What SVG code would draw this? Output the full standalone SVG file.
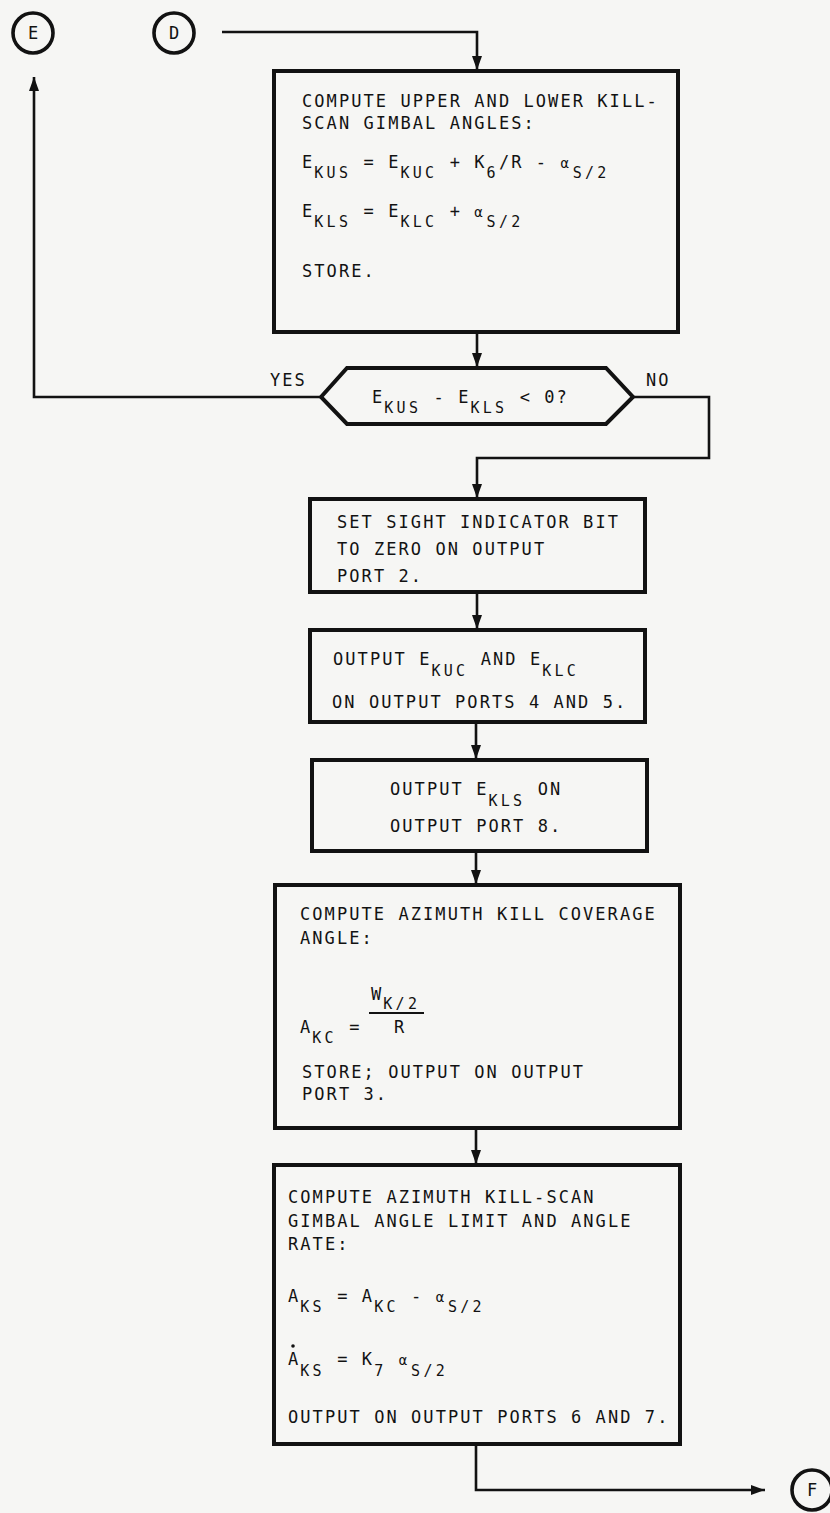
<svg xmlns="http://www.w3.org/2000/svg" width="830" height="1513" viewBox="0 0 830 1513">
<style>
.bg{fill:#f6f6f4}
.t{font-family:"DejaVu Sans Mono","Liberation Mono",monospace;font-size:17px;letter-spacing:2.07px;fill:#121212}
.s{font-size:15px;letter-spacing:3.27px}
.al{font-size:14px;letter-spacing:3.87px}
.c{text-anchor:middle;letter-spacing:0}
.box{fill:none;stroke:#121212;stroke-width:4;stroke-linejoin:miter}
.ln{fill:none;stroke:#121212;stroke-width:2.6}
.circ{fill:none;stroke:#121212;stroke-width:3.6}
</style>
<defs>
<marker id="ah" viewBox="0 0 14 10" refX="14" refY="5" markerWidth="14" markerHeight="10" markerUnits="userSpaceOnUse" orient="auto">
<path d="M0,0 L14,5 L0,10 z" fill="#121212"/>
</marker>
</defs>
<rect class="bg" x="0" y="0" width="830" height="1513"/>

<g id="connectors">
<path class="ln" d="M222,32 H477 V70" marker-end="url(#ah)"/>
<path class="ln" d="M477,332 V367" marker-end="url(#ah)"/>
<path class="ln" d="M321,397 H34 V77" marker-end="url(#ah)"/>
<path class="ln" d="M633,397 H709 V458 H477 V498" marker-end="url(#ah)"/>
<path class="ln" d="M477,592 V629" marker-end="url(#ah)"/>
<path class="ln" d="M476,722 V759" marker-end="url(#ah)"/>
<path class="ln" d="M476,851 V884" marker-end="url(#ah)"/>
<path class="ln" d="M476,1128 V1164" marker-end="url(#ah)"/>
<path class="ln" d="M476,1444 V1490 H765" marker-end="url(#ah)"/>
</g>

<g id="node-E">
<circle class="circ" cx="33" cy="33" r="20"/>
<text class="t c" x="33" y="39">E</text>
</g>
<g id="node-D">
<circle class="circ" cx="174" cy="33" r="20"/>
<text class="t c" x="174" y="39">D</text>
</g>
<g id="node-F">
<circle class="circ" cx="812" cy="1490" r="20"/>
<text class="t c" x="812" y="1496">F</text>
</g>

<g id="box1">
<rect class="box" x="274" y="71" width="404" height="261"/>
<text class="t" x="302" y="107">COMPUTE UPPER AND LOWER KILL-</text>
<text class="t" x="302" y="129">SCAN GIMBAL ANGLES:</text>
<text class="t" x="302" y="168">E<tspan class="s" dy="10">KUS</tspan><tspan dy="-10"> = E</tspan><tspan class="s" dy="10">KUC</tspan><tspan dy="-10"> + K</tspan><tspan class="s" dy="10">6</tspan><tspan dy="-10">/R - </tspan><tspan class="al">α</tspan><tspan class="s" dy="10">S/2</tspan></text>
<text class="t" x="302" y="217">E<tspan class="s" dy="10">KLS</tspan><tspan dy="-10"> = E</tspan><tspan class="s" dy="10">KLC</tspan><tspan dy="-10"> + </tspan><tspan class="al">α</tspan><tspan class="s" dy="10">S/2</tspan></text>
<text class="t" x="302" y="277">STORE.</text>
</g>

<g id="decision">
<polygon class="box" points="321,397 347,368 606,368 633,397 606,424 347,424"/>
<text class="t" x="372" y="403">E<tspan class="s" dy="10">KUS</tspan><tspan dy="-10"> - E</tspan><tspan class="s" dy="10">KLS</tspan><tspan dy="-10"> &lt; 0?</tspan></text>
<text class="t" x="270" y="386">YES</text>
<text class="t" x="646" y="386">NO</text>
</g>

<g id="box2">
<rect class="box" x="310" y="499" width="335" height="93"/>
<text class="t" x="337" y="528">SET SIGHT INDICATOR BIT</text>
<text class="t" x="337" y="555">TO ZERO ON OUTPUT</text>
<text class="t" x="337" y="582">PORT 2.</text>
</g>

<g id="box3">
<rect class="box" x="310" y="630" width="335" height="92"/>
<text class="t" x="333" y="665">OUTPUT E<tspan class="s" dy="11">KUC</tspan><tspan dy="-11"> AND E</tspan><tspan class="s" dy="11">KLC</tspan></text>
<text class="t" x="332" y="708">ON OUTPUT PORTS 4 AND 5.</text>
</g>

<g id="box4">
<rect class="box" x="312" y="760" width="335" height="91"/>
<text class="t" x="390" y="795">OUTPUT E<tspan class="s" dy="11">KLS</tspan><tspan dy="-11"> ON</tspan></text>
<text class="t" x="390" y="832">OUTPUT PORT 8.</text>
</g>

<g id="box5">
<rect class="box" x="275" y="885" width="405" height="243"/>
<text class="t" x="300" y="920">COMPUTE AZIMUTH KILL COVERAGE</text>
<text class="t" x="300" y="944">ANGLE:</text>
<text class="t" x="371" y="1000">W<tspan class="s" dy="9">K/2</tspan></text>
<line x1="369" y1="1013" x2="424" y2="1013" stroke="#121212" stroke-width="2"/>
<text class="t" x="300" y="1033">A<tspan class="s" dy="10">KC</tspan><tspan dy="-10"> =</tspan></text>
<text class="t" x="394" y="1033">R</text>
<text class="t" x="302" y="1078">STORE; OUTPUT ON OUTPUT</text>
<text class="t" x="302" y="1100">PORT 3.</text>
</g>

<g id="box6">
<rect class="box" x="274" y="1165" width="406" height="279"/>
<text class="t" x="288" y="1203">COMPUTE AZIMUTH KILL-SCAN</text>
<text class="t" x="288" y="1227">GIMBAL ANGLE LIMIT AND ANGLE</text>
<text class="t" x="288" y="1250">RATE:</text>
<text class="t" x="288" y="1302">A<tspan class="s" dy="10">KS</tspan><tspan dy="-10"> = A</tspan><tspan class="s" dy="10">KC</tspan><tspan dy="-10"> - </tspan><tspan class="al">α</tspan><tspan class="s" dy="10">S/2</tspan></text>
<circle cx="293" cy="1346" r="1.8" fill="#121212"/>
<text class="t" x="288" y="1365">A<tspan class="s" dy="11">KS</tspan><tspan dy="-11"> = K</tspan><tspan class="s" dy="11">7</tspan><tspan dy="-11"> </tspan><tspan class="al">α</tspan><tspan class="s" dy="11">S/2</tspan></text>
<text class="t" x="288" y="1423">OUTPUT ON OUTPUT PORTS 6 AND 7.</text>
</g>
</svg>
